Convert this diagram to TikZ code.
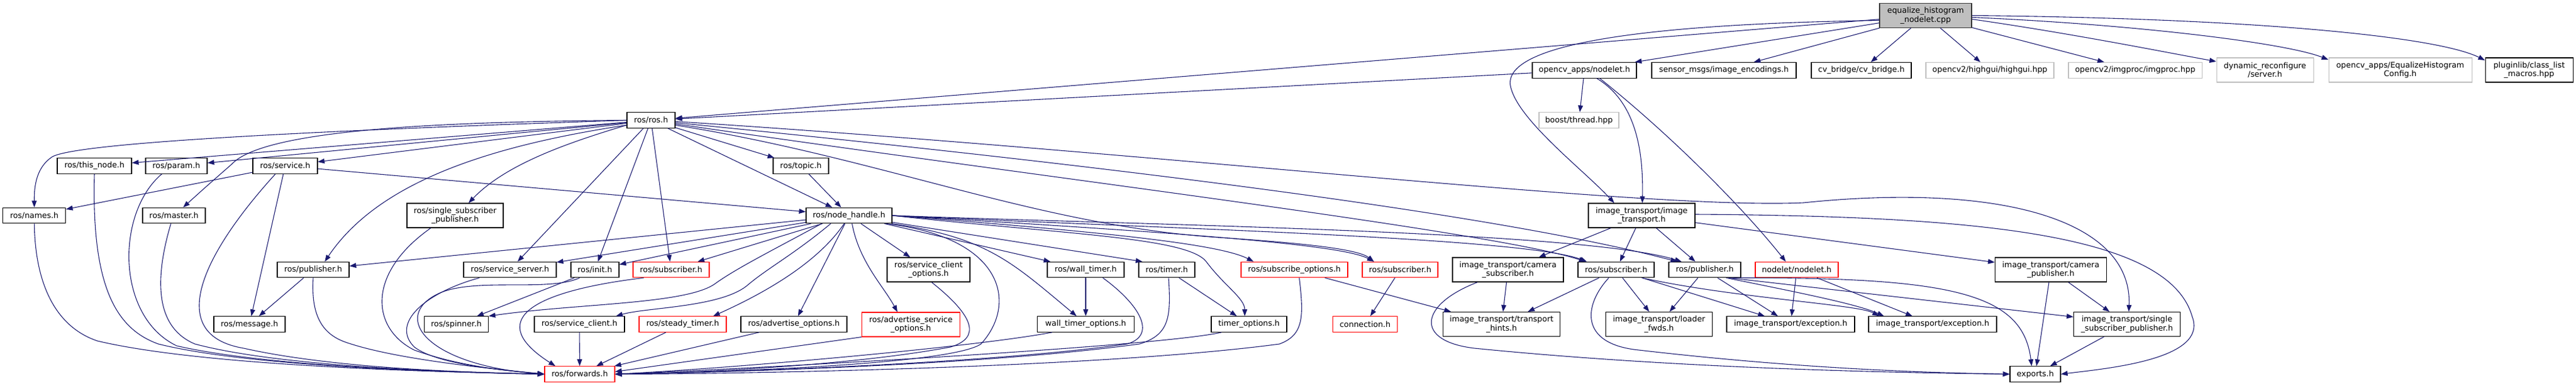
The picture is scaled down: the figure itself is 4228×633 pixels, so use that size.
\documentclass[tikz,border=0pt]{standalone}
\usepackage{fontspec}
\setmainfont{DejaVu Sans}
\usetikzlibrary{arrows.meta}
\definecolor{edgec}{HTML}{191970}
\definecolor{greyb}{HTML}{BFBFBF}
\definecolor{redb}{HTML}{FF0000}
\newcommand{\nfont}{\fontsize{12.9pt}{14.5pt}\selectfont}
\begin{document}
\begin{tikzpicture}[x=1pt,y=-1pt,
  nb/.style={draw=black, line width=1.1pt, fill=white, inner sep=0pt, minimum height=25.5pt, font=\nfont, align=center, text=black},
  tall/.style={minimum height=40pt},
  trunc/.style={draw=redb},
  ext/.style={draw=greyb},
  dep/.style={draw=edgec, line width=1.1pt, -{Triangle[length=11pt,width=8pt]}},
]
\useasboundingbox (0,0) rectangle (4228,633);
% ---------- nodes ----------
\node[nb, tall, fill=greyb, draw=black!80, minimum width=151pt] (cpp) at (3160.5,25.5) {equalize\_histogram\\\_nodelet.cpp};
\node[nb, minimum width=79pt] (rosh) at (1068.5,197.5) {ros/ros.h};
\node[nb, minimum width=171pt] (ocn) at (2600.5,115.3) {opencv\_apps/nodelet.h};
\node[nb, minimum width=237pt] (enc) at (2829.5,115.3) {sensor\_msgs/image\_encodings.h};
\node[nb, minimum width=164pt] (cvb) at (3055,115.3) {cv\_bridge/cv\_bridge.h};
\node[nb, ext, minimum width=210pt] (hgui) at (3266,115.3) {opencv2/highgui/highgui.hpp};
\node[nb, ext, minimum width=219pt] (imgp) at (3504.5,115.3) {opencv2/imgproc/imgproc.hpp};
\node[nb, tall, ext, minimum width=159pt] (dynr) at (3717.5,115) {dynamic\_reconfigure\\/server.h};
\node[nb, tall, ext, minimum width=235pt] (eqc) at (3939.5,115) {opencv\_apps/EqualizeHistogram\\Config.h};
\node[nb, tall, minimum width=144pt] (plug) at (4151,115) {pluginlib/class\_list\\\_macros.hpp};
\node[nb, ext, minimum width=131pt] (boost) at (2591.5,197.5) {boost/thread.hpp};
\node[nb, minimum width=122pt] (thisn) at (155,272.5) {ros/this\_node.h};
\node[nb, minimum width=101pt] (param) at (289.5,272.5) {ros/param.h};
\node[nb, minimum width=106pt] (service) at (468,272.5) {ros/service.h};
\node[nb, minimum width=91pt] (topic) at (1314.5,272.5) {ros/topic.h};
\node[nb, minimum width=103pt] (names) at (56.3,354) {ros/names.h};
\node[nb, minimum width=103pt] (master) at (285.5,354) {ros/master.h};
\node[nb, tall, minimum width=158pt] (rssp) at (747,354) {ros/single\_subscriber\\\_publisher.h};
\node[nb, minimum width=141pt] (nh) at (1393.5,354) {ros/node\_handle.h};
\node[nb, tall, minimum width=175pt] (itit) at (2694.5,354) {image\_transport/image\\\_transport.h};
\node[nb, minimum width=118pt] (pub1) at (514,443) {ros/publisher.h};
\node[nb, minimum width=152pt] (ssrv) at (837,443) {ros/service\_server.h};
\node[nb, minimum width=79pt] (init) at (976.5,443) {ros/init.h};
\node[nb, trunc, minimum width=125pt] (sub1) at (1101.5,443) {ros/subscriber.h};
\node[nb, tall, minimum width=136pt] (sco) at (1524,443) {ros/service\_client\\\_options.h};
\node[nb, minimum width=126pt] (wtim) at (1782,443) {ros/wall\_timer.h};
\node[nb, minimum width=92pt] (tim) at (1915,443) {ros/timer.h};
\node[nb, trunc, minimum width=175pt] (subo) at (2124.5,443) {ros/subscribe\_options.h};
\node[nb, trunc, minimum width=124pt] (sub2) at (2298,443) {ros/subscriber.h};
\node[nb, tall, minimum width=182pt] (camsub) at (2475,443) {image\_transport/camera\\\_subscriber.h};
\node[nb, minimum width=125pt] (sub3) at (2652.5,443) {ros/subscriber.h};
\node[nb, minimum width=118pt] (pub2) at (2798,443) {ros/publisher.h};
\node[nb, trunc, minimum width=136pt] (nodel) at (2949,443) {nodelet/nodelet.h};
\node[nb, tall, minimum width=183pt] (campub) at (3366,443) {image\_transport/camera\\\_publisher.h};
\node[nb, minimum width=117pt] (msg) at (409.5,532.5) {ros/message.h};
\node[nb, minimum width=105pt] (spin) at (749,532.5) {ros/spinner.h};
\node[nb, minimum width=148pt] (scli) at (951,532.5) {ros/service\_client.h};
\node[nb, trunc, minimum width=143pt] (stdt) at (1120.5,532.5) {ros/steady\_timer.h};
\node[nb, minimum width=174pt] (advo) at (1303,532.5) {ros/advertise\_options.h};
\node[nb, tall, trunc, minimum width=161pt] (advso) at (1495,533) {ros/advertise\_service\\\_options.h};
\node[nb, minimum width=159pt] (wto) at (1782,532.5) {wall\_timer\_options.h};
\node[nb, minimum width=124pt] (topt) at (2050,532.5) {timer\_options.h};
\node[nb, trunc, minimum width=106pt] (conn) at (2240.5,532.5) {connection.h};
\node[nb, tall, minimum width=192pt] (hints) at (2464.5,532.5) {image\_transport/transport\\\_hints.h};
\node[nb, tall, minimum width=175pt] (ldr) at (2723,532.5) {image\_transport/loader\\\_fwds.h};
\node[nb, minimum width=210pt] (exc1) at (2939,532.5) {image\_transport/exception.h};
\node[nb, minimum width=210pt] (exc2) at (3172,532.5) {image\_transport/exception.h};
\node[nb, tall, minimum width=175pt] (itssp) at (3491,532.5) {image\_transport/single\\\_subscriber\_publisher.h};
\node[nb, trunc, minimum width=115pt] (fwd) at (951.5,614.5) {ros/forwards.h};
\node[nb, minimum width=83pt] (exp) at (3340.5,614.5) {exports.h};
% ---------- edges from the source file ----------
\draw[dep] (cpp) -- (rosh);
\draw[dep] (cpp) -- (ocn);
\draw[dep] (cpp) -- (enc);
\draw[dep] (cpp) -- (cvb);
\draw[dep] (cpp) -- (hgui);
\draw[dep] (cpp) -- (imgp);
\draw[dep] ([yshift=-6pt]cpp.east) .. controls (3400,55) and (3550,85) .. ([yshift=14pt]dynr.west);
\draw[dep] ([yshift=-3pt]cpp.east) .. controls (3500,40) and (3750,70) .. ([yshift=17pt]eqc.west);
\draw[dep] (cpp.east) .. controls (3700,30) and (4000,60) .. ([yshift=16pt]plug.west);
\draw[dep] ([yshift=-8pt]cpp.west) .. controls (2650,40) and (2460,80) .. (2480,145) .. controls (2495,200) and (2600,280) .. ([xshift=-45pt]itit.north);
% ---------- opencv_apps/nodelet.h ----------
\draw[dep] (ocn) -- (rosh);
\draw[dep] (ocn) -- (boost);
\draw[dep] ([xshift=20pt]ocn.south) .. controls (2690,170) and (2697,260) .. ([xshift=1pt]itit.north);
\draw[dep] ([xshift=25pt]ocn.south) .. controls (2740,220) and (2860,340) .. ([xshift=-18pt]nodel.north);
% ---------- ros/ros.h ----------
\draw[dep] (rosh) -- (thisn);
\draw[dep] (rosh) -- (param);
\draw[dep] (rosh) -- (service);
\draw[dep] (rosh.west) .. controls (500,215) and (120,235) .. (85,258) .. controls (60,275) and (56,305) .. (names.north);
\draw[dep] (rosh.west) .. controls (700,200) and (430,215) .. (380,270) .. controls (340,305) .. ([xshift=15pt]master.north);
\draw[dep] ([yshift=-8pt]rosh.west) .. controls (930,235) and (830,270) .. ([xshift=22pt]rssp.north);
\draw[dep] ([yshift=-8pt]rosh.west) .. controls (800,240) and (620,300) .. ([xshift=19pt]pub1.north);
\draw[dep] (rosh) -- (ssrv);
\draw[dep] (rosh) -- (init);
\draw[dep] (rosh) -- (sub1);
\draw[dep] (rosh) -- (nh);
\draw[dep] (rosh) -- (topic);
\draw[dep] ([yshift=-2pt]rosh.east) .. controls (1900,250) and (2700,345) .. (2960,333) .. controls (3280,300) and (3500,360) .. ([xshift=3pt]itssp.north);
\draw[dep] ([yshift=-4pt]rosh.east) .. controls (1800,270) and (2450,350) .. ([xshift=-45pt]pub2.north);
\draw[dep] ([yshift=-6pt]rosh.east) .. controls (1700,290) and (2450,380) .. ([xshift=-50pt]sub3.north);
\draw[dep] ([yshift=-8pt]rosh.east) .. controls (1450,260) and (1700,370) .. (2000,390) .. controls (2150,400) and (2230,410) .. ([xshift=-43pt]sub2.north);
% ---------- ros/node_handle.h ----------
\draw[dep] (nh) -- (pub1);
\draw[dep] (nh) -- (ssrv);
\draw[dep] (nh) -- (init);
\draw[dep] (nh) -- (sub1);
\draw[dep] ([xshift=-45pt]nh.south) .. controls (1270,410) and (1210,440) .. (1175,465) .. controls (1130,500) and (950,498) .. (spin.north east);
\draw[dep] ([xshift=-30pt]nh.south) .. controls (1300,420) and (1260,440) .. (1225,470) .. controls (1180,505) and (1060,505) .. ([xshift=60pt]scli.north);
\draw[dep] ([xshift=-8pt]nh.south) .. controls (1350,420) and (1280,470) .. ([xshift=50pt]stdt.north);
\draw[dep] (nh) -- (advo);
\draw[dep] ([xshift=5pt]nh.south) .. controls (1410,430) and (1450,470) .. ([xshift=-22pt]advso.north);
\draw[dep] (nh) -- (sco);
\draw[dep] ([xshift=60pt]nh.south) .. controls (1650,390) and (1670,500) .. (1610,565) .. controls (1560,600) and (1150,612) .. (fwd.east);
\draw[dep] ([xshift=70pt]nh.south) .. controls (1620,390) and (1660,430) .. ([xshift=-15pt]wto.north);
\draw[dep] (nh) -- ([xshift=-58pt]wtim.north);
\draw[dep] (nh) -- ([xshift=-40pt]tim.north);
\draw[dep] (nh.east) .. controls (1750,385) and (1950,390) .. (1980,430) .. controls (2010,470) and (2043,490) .. ([xshift=-7pt]topt.north);
\draw[dep] (nh.east) .. controls (1800,380) and (2000,400) .. ([xshift=-67pt]subo.north);
\draw[dep] (nh.east) .. controls (1900,380) and (2200,400) .. ([xshift=-43pt]sub2.north);
\draw[dep] (nh.east) .. controls (1900,375) and (2500,390) .. ([xshift=-48pt]sub3.north);
\draw[dep] (nh.east) .. controls (1900,370) and (2600,380) .. ([xshift=-38pt]pub2.north);
% ---------- ros/service.h ----------
\draw[dep] (service) -- (names);
\draw[dep] (service) -- (msg);
\draw[dep] (service) -- (nh);
\draw[dep] ([xshift=-16pt]service.south) .. controls (330,420) and (270,550) .. (400,572) .. controls (560,608) and (800,612) .. (fwd.west);
% ---------- edges into ros/forwards.h ----------
\draw[dep] (thisn.south) .. controls (150,470) and (190,540) .. (260,565) .. controls (420,605) and (780,612) .. (fwd.west);
\draw[dep] ([xshift=-24pt]param.south) .. controls (190,350) and (190,520) .. (290,568) .. controls (450,605) and (780,612) .. (fwd.west);
\draw[dep] (names.south) .. controls (58,480) and (100,540) .. (160,560) .. controls (350,605) and (780,612) .. (fwd.west);
\draw[dep] ([xshift=-5pt]master.south) .. controls (250,470) and (260,540) .. (320,565) .. controls (470,605) and (780,612) .. (fwd.west);
\draw[dep] (pub1) -- (msg);
\draw[dep] (pub1.south) .. controls (510,520) and (530,550) .. (570,563) .. controls (650,590) and (800,605) .. (fwd.west);
\draw[dep] ([xshift=-40pt]rssp.south) .. controls (600,450) and (610,540) .. (680,575) .. controls (750,600) and (820,608) .. (fwd.west);
\draw[dep] ([xshift=-50pt]ssrv.south) .. controls (700,480) and (640,530) .. (680,570) .. controls (720,600) and (830,608) .. (fwd.west);
\draw[dep] ([xshift=-25pt]init.south) .. controls (900,480) and (780,455) .. (720,482) .. controls (640,520) and (700,600) .. (fwd.west);
\draw[dep] (init) -- (spin);
\draw[dep] ([xshift=-45pt]sub1.south) .. controls (860,480) and (800,530) .. ([xshift=-40pt]fwd.north);
\draw[dep] (scli) -- (fwd);
\draw[dep] (stdt) -- (fwd);
\draw[dep] (advo) -- (fwd);
\draw[dep] (advso.south west) -- ([yshift=4pt]fwd.east);
\draw[dep] ([xshift=5pt]sco.south) .. controls (1600,520) and (1610,555) .. (1560,570) .. controls (1400,600) and (1150,612) .. (fwd.east);
\draw[dep] (wtim) -- (wto);
\draw[dep] ([xshift=28pt]wtim.south) .. controls (1870,500) and (1900,550) .. (1850,565) .. controls (1600,600) and (1150,612) .. (fwd.east);
\draw[dep] (tim) -- (topt);
\draw[dep] ([xshift=3pt]tim.south) .. controls (1922,520) and (1920,550) .. (1870,565) .. controls (1600,602) and (1150,612) .. (fwd.east);
\draw[dep] ([xshift=-55pt]wto.south) .. controls (1600,570) and (1200,605) .. (fwd.east);
\draw[dep] ([xshift=-45pt]topt.south) .. controls (1900,570) and (1200,607) .. (fwd.east);
\draw[dep] ([xshift=8pt]subo.south) .. controls (2140,520) and (2140,550) .. (2100,565) .. controls (1800,605) and (1200,614) .. (fwd.east);
\draw[dep] ([xshift=50pt]subo.south) -- ([xshift=-83pt]hints.north);
\draw[dep] (sub2) -- (conn);
\draw[dep] (topic) -- (nh);
% ---------- image_transport ----------
\draw[dep] (itit) -- (camsub);
\draw[dep] (itit) -- (sub3);
\draw[dep] (itit) -- (pub2);
\draw[dep] (itit) -- (campub);
\draw[dep] ([yshift=2pt]itit.east) .. controls (3250,355) and (3560,385) .. (3598,520) .. controls (3625,590) and (3460,605) .. (exp.east);
\draw[dep] (camsub) -- (hints);
\draw[dep] ([xshift=-50pt]camsub.south) .. controls (2330,500) and (2320,560) .. (2420,572) .. controls (2750,605) and (3100,612) .. (exp.west);
\draw[dep] (sub3) -- (hints);
\draw[dep] (sub3) -- (ldr);
\draw[dep] (sub3) -- (exc1);
\draw[dep] ([xshift=42pt]sub3.south) .. controls (2850,490) and (3050,500) .. ([xshift=-88pt]exc2.north);
\draw[dep] ([xshift=-12pt]sub3.south) .. controls (2600,500) and (2590,565) .. (2690,575) .. controls (2950,605) and (3150,612) .. (exp.west);
\draw[dep] (pub2) -- (ldr);
\draw[dep] (pub2) -- (exc1);
\draw[dep] ([xshift=35pt]pub2.south) .. controls (2950,480) and (3050,500) .. ([xshift=-80pt]exc2.north);
\draw[dep] ([xshift=39pt]pub2.south) .. controls (3200,455) and (3320,480) .. ([xshift=-6pt]exp.north);
\draw[dep] ([xshift=39pt]pub2.south) -- ([yshift=12pt]itssp.west);
\draw[dep] (nodel) -- (exc1);
\draw[dep] (nodel) -- (exc2);
\draw[dep] (campub) -- (exp);
\draw[dep] (campub) -- (itssp);
\draw[dep] (itssp) -- (exp);
\end{tikzpicture}
\end{document}
